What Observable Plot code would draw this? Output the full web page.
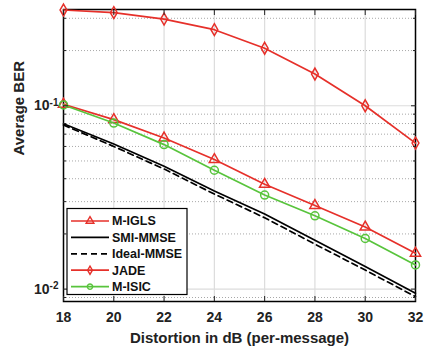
<!DOCTYPE html>
<html>
<head>
<meta charset="utf-8">
<script src="https://cdn.jsdelivr.net/npm/d3@7"></script>
<script src="https://cdn.jsdelivr.net/npm/@observablehq/plot@0.6"></script>
<style>
  html, body { margin: 0; padding: 0; background: #fff; }
  #chart svg { display: block; }
</style>
</head>
<body>
<div id="chart"></div>
<script>
// ---- data ----
const xVals = [18, 20, 22, 24, 26, 28, 30, 32];
const seriesNames = ["M-IGLS", "SMI-MMSE", "Ideal-MMSE", "JADE", "M-ISIC"];
const mIGLS   = [0.102, 0.084, 0.0667, 0.0509, 0.0373, 0.0286, 0.0218, 0.0157];
const smiMMSE = [0.0798, 0.0619, 0.0468, 0.0343, 0.0257, 0.01845, 0.0133, 0.0095];
const idealMMSE = [0.0785, 0.0600, 0.0452, 0.0330, 0.0245, 0.0176, 0.0127, 0.0091];
const jade    = [0.333, 0.322, 0.297, 0.260, 0.206, 0.149, 0.100, 0.0626];
const mISIC   = [0.101, 0.0805, 0.0614, 0.0445, 0.0326, 0.0251, 0.0189, 0.01355];
const seriesValues = [mIGLS, smiMMSE, idealMMSE, jade, mISIC];
const seriesColors = ["#e6302a", "#000000", "#000000", "#e6302a", "#58c43c"];
const seriesSymbols = ["triangle", null, null, "diamond", "circle"];
const seriesDash = [null, null, "6,4", null, null];

const xTicks = [18, 20, 22, 24, 26, 28, 30, 32];
const yMajor = [0.01, 0.1];
const yMinor = [0.009, 0.02, 0.03, 0.04, 0.05, 0.06, 0.07, 0.08, 0.09, 0.2, 0.3];
const xLabel = "Distortion in dB (per-message)";
const yLabel = "Average BER";

// ---- build table ----
const rows = [];
seriesNames.forEach((name, i) => {
  xVals.forEach((x, j) => rows.push({series: name, idx: i, x, y: seriesValues[i][j]}));
});

const W = 429, H = 351;
const M = {top: 9, right: 14, bottom: 50, left: 63};
const font = "'Liberation Sans', Arial, Helvetica, sans-serif";

const marks = [
  Plot.ruleX(xTicks, {x: d => d, stroke: "#dcdcdc", strokeWidth: 1.2}),
  Plot.ruleY(yMinor, {y: d => d, stroke: "#a8a8a8", strokeWidth: 1, strokeDasharray: "1,2"}),
  Plot.ruleY(yMajor, {y: d => d, stroke: "#dcdcdc", strokeWidth: 1.2}),
  Plot.frame({stroke: "#000", strokeWidth: 1.5}),
];

seriesNames.forEach((name, i) => {
  const d = rows.filter(r => r.idx === i);
  marks.push(Plot.line(d, {x: "x", y: "y", stroke: seriesColors[i], strokeWidth: 1.7,
    strokeDasharray: seriesDash[i] || undefined}));
  if (seriesSymbols[i]) {
    const r = seriesSymbols[i] === "circle" ? 4 : seriesSymbols[i] === "triangle" ? 3.8 : 3.6;
    marks.push(Plot.dot(d, {x: "x", y: "y", symbol: () => seriesSymbols[i], r,
      stroke: seriesColors[i], fill: "none", strokeWidth: 1.5}));
  }
});

marks.push(
  // inward ticks on all four sides
  Plot.axisX({ticks: xTicks, anchor: "bottom", tickSize: -5, tickFormat: () => "", label: null}),
  Plot.axisX({ticks: xTicks, anchor: "top", tickSize: -5, tickFormat: () => "", label: null}),
  Plot.axisY({ticks: yMajor, anchor: "left", tickSize: -5, tickFormat: () => "", label: null}),
  Plot.axisY({ticks: yMinor, anchor: "left", tickSize: -3, tickFormat: () => "", label: null}),
  Plot.axisY({ticks: yMajor, anchor: "right", tickSize: -5, tickFormat: () => "", label: null}),
  Plot.axisY({ticks: yMinor, anchor: "right", tickSize: -3, tickFormat: () => "", label: null}),
  // tick labels
  Plot.axisX({ticks: xTicks, anchor: "bottom", tickSize: 0, tickPadding: 11, label: null,
    tickFormat: d => String(d), fontSize: 14, fontWeight: "bold"}),
  Plot.axisY({ticks: yMajor, anchor: "left", tickSize: 0, tickPadding: 5, label: null,
    tickFormat: d => "10|" + Math.round(Math.log10(d)), fontSize: 14, fontWeight: "bold"}),
  // axis titles
  Plot.text([xLabel], {text: d => d, frameAnchor: "bottom", dy: 37, lineAnchor: "middle",
    fontSize: 15, fontWeight: "bold", fill: "#222"}),
  Plot.text([yLabel], {text: d => d, frameAnchor: "left", dx: -44, rotate: -90, lineAnchor: "middle",
    fontSize: 15, fontWeight: "bold", fill: "#222"})
);

const chart = Plot.plot({
  width: W, height: H,
  marginTop: M.top, marginRight: M.right, marginBottom: M.bottom, marginLeft: M.left,
  x: {domain: [18, 32]},
  y: {type: "log", domain: [0.00856, 0.335]},
  style: {fontFamily: font, fontSize: "14px", color: "#222", background: "#fff"},
  marks
});
document.getElementById("chart").appendChild(chart);

const svg = d3.select(chart);

// superscript exponents in y tick labels
svg.selectAll('g[aria-label="y-axis tick label"] text').each(function() {
  const t = d3.select(this);
  const s = t.text();
  if (!s.includes("|")) return;
  const [base, exp] = s.split("|");
  t.text("");
  t.append("tspan").text(base);
  t.append("tspan").attr("dy", "-0.45em").attr("font-size", 10).text(exp);
});

// legend (inside plot, lower-left)
const lg = svg.append("g").attr("font-family", font).attr("font-weight", "bold")
  .attr("font-size", 12.5).attr("text-anchor", "start");
const lx = 67, ly = 208.5, lw = 120, lh = 86, step = 16.4, first = 221;
lg.append("rect").attr("x", lx).attr("y", ly).attr("width", lw).attr("height", lh)
  .attr("fill", "#fff").attr("stroke", "#000").attr("stroke-width", 1.2);
const legendSymbol = {triangle: d3.symbolTriangle, diamond: d3.symbolDiamond, circle: d3.symbolCircle};
const legendSize = {triangle: 26, diamond: 20, circle: 22};
seriesNames.forEach((name, i) => {
  const y = first + i * step;
  lg.append("line").attr("x1", lx + 4).attr("x2", lx + 42).attr("y1", y).attr("y2", y)
    .attr("stroke", seriesColors[i]).attr("stroke-width", 1.7)
    .attr("stroke-dasharray", seriesDash[i] || null);
  if (seriesSymbols[i]) {
    lg.append("path").attr("transform", `translate(${lx + 23},${y})`)
      .attr("d", d3.symbol(legendSymbol[seriesSymbols[i]], legendSize[seriesSymbols[i]])())
      .attr("fill", "none").attr("stroke", seriesColors[i]).attr("stroke-width", 1.4);
  }
  lg.append("text").attr("x", lx + 45).attr("y", y).attr("dy", "0.35em")
    .attr("text-anchor", "start").attr("fill", "#111").text(name);
});
</script>
</body>
</html>
